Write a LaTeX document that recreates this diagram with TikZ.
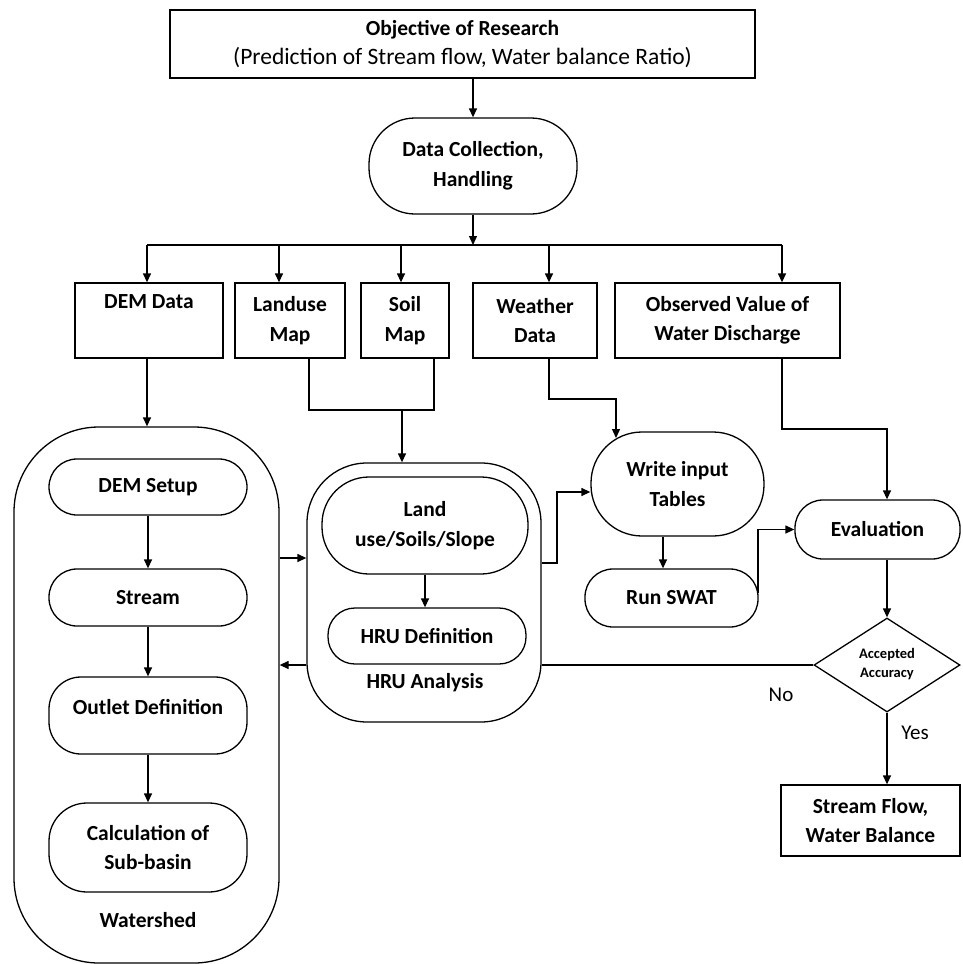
\documentclass[tikz,border=0pt]{standalone}
\usepackage{fontspec}
\setmainfont{Carlito}
\usetikzlibrary{arrows.meta,shapes.geometric}
\begin{document}
\begin{tikzpicture}[x=1pt,y=-1pt,
  every node/.style={font=\bfseries\fontsize{21.5}{29.5}\selectfont, align=center, inner sep=0pt},
  sq/.style={draw, line width=1.3pt},
  rr/.style={draw, line width=1.3pt, rounded corners=#1},
  ln/.style={line width=1.3pt},
  arr/.style={line width=1.3pt, -{Triangle[length=9pt,width=8pt]}},
  small/.style={font=\bfseries\fontsize{14.5}{19}\selectfont},
  plain/.style={font=\fontsize{21}{29}\selectfont}]
\useasboundingbox (0,0) rectangle (962,964);

% top
\node[sq, minimum width=585, minimum height=68] (obj) at (462.5,44)
  {Objective of Research\\{\mdseries\fontsize{23.5}{29.5}\selectfont (Prediction of Stream flow, Water balance Ratio)}};
\node[rr=46, minimum width=208, minimum height=96] (dc) at (473,166) {Data Collection,\\Handling};

% data boxes
\node[sq, minimum width=148, minimum height=75] (dem) at (149,320.5) {DEM Data\\\strut};
\node[sq, minimum width=110, minimum height=75] (land) at (290,320.5) {Landuse\\Map};
\node[sq, minimum width=88, minimum height=75] (soil) at (405,320.5) {Soil\\Map};
\node[sq, minimum width=124, minimum height=75] (weather) at (535,320.5) {Weather\\Data};
\node[sq, minimum width=225, minimum height=75] (obs) at (727.5,320.5) {Observed Value of\\Water Discharge};

% watershed group
\node[rr=85, minimum width=265, minimum height=536] (ws) at (146.5,695) {};
\node[rr=28, minimum width=198, minimum height=56] (demsetup) at (148,487) {DEM Setup};
\node[rr=28, minimum width=198, minimum height=57] (stream) at (148,597.5) {Stream};
\node[rr=32, minimum width=198, minimum height=77] (outlet) at (148,715.5) {};
\node (outlettxt) at (148,707) {Outlet Definition};
\node[rr=38, minimum width=198, minimum height=89] (calc) at (148,847.5) {Calculation of\\Sub-basin};
\node (wstxt) at (148,920) {Watershed};

% HRU group
\node[rr=60, minimum width=234, minimum height=259] (hru) at (424,592.5) {};
\node[rr=47, minimum width=206, minimum height=97] (landuse) at (425,525.5) {Land\\use/Soils/Slope};
\node[rr=27, minimum width=198, minimum height=56] (hrudef) at (427,636) {HRU Definition};
\node (hrutxt) at (425,683) {HRU Analysis};

% SWAT
\node[rr=51, minimum width=173, minimum height=104] (write) at (677.5,484) {Write input\\Tables};
\node[rr=28, minimum width=173, minimum height=58] (run) at (671.5,598) {Run SWAT};
\node[rr=28, minimum width=165, minimum height=59] (eval) at (877.5,529.5) {Evaluation};
\node[draw, line width=1.3pt, diamond, minimum width=146, minimum height=94] (acc) at (887,665) {};
\node[small] (acctxt) at (887,664) {Accepted\\Accuracy};
\node[sq, minimum width=179, minimum height=71] (res) at (870.5,820.5) {Stream Flow,\\Water Balance};
\node[plain] (no) at (781,695) {No};
\node[plain] (yes) at (915,733) {Yes};

% connectors
\draw[arr] (obj.south -| dc.north) -- (dc.north);
\coordinate (bA) at (147,245);
\coordinate (bB) at (279,245);
\coordinate (bC) at (401,245);
\coordinate (bD) at (549,245);
\coordinate (bE) at (782,245);
\draw[arr] (dc.south) -- (dc.south |- bA);
\draw[ln] (bA) -- (bE);
\draw[arr] (bA) -- (bA |- dem.north);
\draw[arr] (bB) -- (bB |- land.north);
\draw[arr] (bC) -- (bC |- soil.north);
\draw[arr] (bD) -- (bD |- weather.north);
\draw[arr] (bE) -- (bE |- obs.north);

\draw[arr] (dem.south -| bA) -- (bA |- ws.north);
\draw[arr] (demsetup.south) -- (stream.north);
\draw[arr] (stream.south) -- (outlet.north);
\draw[arr] (outlet.south) -- (calc.north);

\coordinate (jL) at (309,410);
\coordinate (jS) at (434,410);
\coordinate (jH) at (402,410);
\draw[ln] (jL |- land.south) -- (jL) -- (jS) -- (jS |- soil.south);
\draw[arr] (jH) -- (jH |- hru.north);
\draw[arr] (landuse.south) -- (landuse.south |- hrudef.north);

\coordinate (wsA) at (279,558);
\draw[arr] (ws.east |- wsA) -- (wsA -| hru.west);

\coordinate (wA) at (549,399);
\coordinate (wB) at (616,399);
\coordinate (wEnd) at (616,438);
\draw[arr] (wA |- weather.south) -- (wA) -- (wB) -- (wEnd);

\coordinate (hA) at (557,563);
\coordinate (hB) at (557,492);
\draw[arr] (hru.east |- hA) -- (hA) -- (hB) -- (write.west |- hB);

\coordinate (wr) at (663,0);
\draw[arr] (write.south -| wr) -- (wr |- run.north);

\coordinate (rA) at (758,593);
\draw[arr] (rA) -- (rA |- eval.west) -- (eval.west);

\coordinate (oA) at (782,429);
\coordinate (oB) at (887,429);
\draw[arr] (oA |- obs.south) -- (oA) -- (oB) -- (oB |- eval.north);

\draw[arr] (eval.south -| acc.north) -- (acc.north);
\draw[arr] (acc.south) -- (acc.south |- res.north);

\draw[ln] (acc.west) -- (acc.west -| hru.east);
\draw[arr] (acc.west -| hru.west) -- (acc.west -| ws.east);
\end{tikzpicture}
\end{document}
